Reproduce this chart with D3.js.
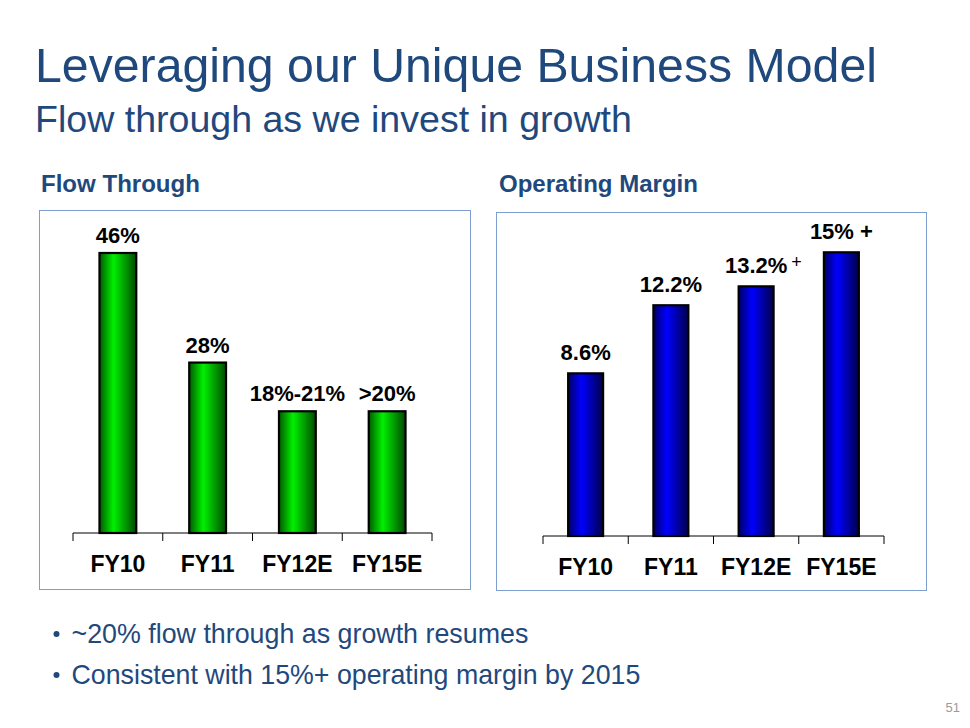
<!DOCTYPE html>
<html>
<head>
<meta charset="utf-8">
<script src="https://cdn.jsdelivr.net/npm/d3@7"></script>
<style>
  html, body { margin: 0; padding: 0; background: #fff; }
  svg { display: block; font-family: "Liberation Sans", Arial, sans-serif; }
</style>
</head>
<body>
<svg id="chart" width="970" height="728"></svg>
<script>
// ---- data ----
const categories = ["FY10", "FY11", "FY12E", "FY15E"];
const flowValues = [46, 28, 20, 20];
const flowLabels = ["46%", "28%", "18%-21%", ">20%"];
const marginValues = [8.6, 12.2, 13.2, 15];
const marginLabels = ["8.6%", "12.2%", "13.2%", "15% +"];
const marginSup = ["", "", "+", ""];
const titleText = "Leveraging our Unique Business Model";
const subtitleText = "Flow through as we invest in growth";
const panelTitles = ["Flow Through", "Operating Margin"];
const bullets = ["~20% flow through as growth resumes", "Consistent with 15%+ operating margin by 2015"];
const pageNumber = "51";

const svg = d3.select("#chart");
const navy = "#1F497D";

function fit(sel, width) {
  const base = parseFloat(sel.attr("font-size"));
  const w = sel.node().getComputedTextLength();
  sel.attr("font-size", (base * width / w).toFixed(2));
  return sel;
}

// gradients
const defs = svg.append("defs");
function grad(id, dark1, bright, dark2) {
  const g = defs.append("linearGradient").attr("id", id)
    .attr("x1", "0%").attr("x2", "100%").attr("y1", "0%").attr("y2", "0%");
  g.append("stop").attr("offset", "0%").attr("stop-color", dark1);
  g.append("stop").attr("offset", "38%").attr("stop-color", bright);
  g.append("stop").attr("offset", "100%").attr("stop-color", dark2);
}
grad("gGreen", "#005a00", "#00f000", "#004a00");
grad("gBlue", "#000066", "#0000ff", "#00004a");

// titles
fit(svg.append("text").attr("x", 35).attr("y", 81.5).attr("font-size", 48)
  .attr("fill", navy).text(titleText), 842);
fit(svg.append("text").attr("x", 35).attr("y", 131.5).attr("font-size", 34)
  .attr("fill", navy).text(subtitleText), 597);
fit(svg.append("text").attr("x", 41).attr("y", 192).attr("font-size", 21)
  .attr("font-weight", "bold").attr("fill", navy).text(panelTitles[0]), 159);
fit(svg.append("text").attr("x", 499).attr("y", 192).attr("font-size", 21)
  .attr("font-weight", "bold").attr("fill", navy).text(panelTitles[1]), 199);

// panels
function panel(cfg) {
  const g = svg.append("g");
  g.append("rect").attr("x", cfg.box[0]).attr("y", cfg.box[1])
    .attr("width", cfg.box[2]).attr("height", cfg.box[3])
    .attr("fill", "none").attr("stroke", "#7f9fd3").attr("stroke-width", 1);

  const x = d3.scaleBand().domain(categories).range(cfg.xr)
    .paddingInner(0.59).paddingOuter(0.295);
  const y = d3.scaleLinear().domain([0, cfg.vmax]).range([cfg.base, cfg.top]);

  const data = categories.map((c, i) => ({ c, v: cfg.values[i], l: cfg.labels[i], s: cfg.sup ? cfg.sup[i] : "" }));

  g.selectAll("rect.bar").data(data).enter().append("rect")
    .attr("class", "bar")
    .attr("x", d => x(d.c)).attr("width", x.bandwidth())
    .attr("y", d => y(d.v)).attr("height", d => y(0) - y(d.v))
    .attr("fill", cfg.fill).attr("stroke", "#000").attr("stroke-width", 2.2);

  // axis
  const [x0, x1] = cfg.xr;
  g.append("line").attr("x1", x0).attr("x2", x1).attr("y1", y(0)).attr("y2", y(0))
    .attr("stroke", "#000").attr("stroke-width", 1);
  const tickPos = d3.range(categories.length + 1).map(i => x0 + i * x.step());
  g.selectAll("line.tick").data(tickPos).enter().append("line")
    .attr("x1", d => d).attr("x2", d => d).attr("y1", y(0)).attr("y2", y(0) + 8)
    .attr("stroke", "#000").attr("stroke-width", 1);

  g.selectAll("text.cat").data(data).enter().append("text")
    .attr("x", d => x(d.c) + x.bandwidth() / 2).attr("y", y(0) + 39)
    .attr("text-anchor", "middle").attr("font-size", 23).attr("font-weight", "bold")
    .attr("fill", "#000").text(d => d.c);

  const lab = g.selectAll("text.val").data(data).enter().append("text")
    .attr("x", d => x(d.c) + x.bandwidth() / 2).attr("y", d => y(d.v) - cfg.gap)
    .attr("text-anchor", "middle").attr("font-size", 22).attr("font-weight", "bold")
    .attr("fill", "#000").text(d => d.l);

  // superscript marks placed after the label
  g.selectAll("text.sup").data(data.filter(d => d.s)).enter().append("text")
    .attr("x", d => x(d.c) + x.bandwidth() / 2 + 35)
    .attr("y", d => y(d.v) - cfg.gap - 5)
    .attr("font-size", 18).attr("fill", "#000").text(d => d.s);
}

panel({ box: [39.5, 210.5, 431, 379], xr: [73, 432], base: 533, top: 253, vmax: 46,
  values: flowValues, labels: flowLabels, fill: "url(#gGreen)", gap: 10 });
panel({ box: [496.5, 212.5, 430, 378], xr: [543, 884], base: 536, top: 252.3, vmax: 15,
  values: marginValues, labels: marginLabels, sup: marginSup, fill: "url(#gBlue)", gap: 13 });

// bullets
const by = [643, 684];
bullets.forEach((b, i) => {
  svg.append("circle").attr("cx", 56.5).attr("cy", by[i] - 9).attr("r", 3).attr("fill", navy);
  fit(svg.append("text").attr("x", 71.5).attr("y", by[i]).attr("font-size", 25)
    .attr("fill", navy).text(b), i === 0 ? 457 : 569);
});

svg.append("text").attr("x", 960).attr("y", 712).attr("text-anchor", "end")
  .attr("font-size", 13).attr("fill", "#9a9a9a").text(pageNumber);
</script>
</body>
</html>
